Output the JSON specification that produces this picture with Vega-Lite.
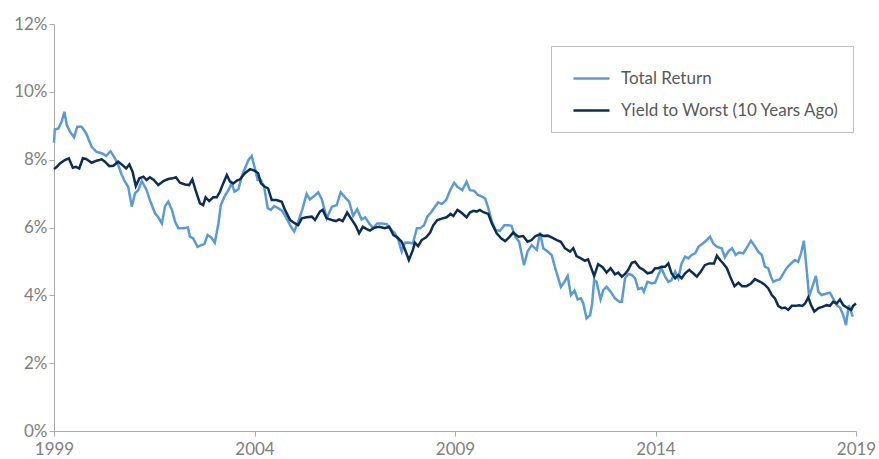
{
"$schema": "https://vega.github.io/schema/vega-lite/v6.json",
"width": 802, "height": 407,
"autosize": {"type": "none"},
"padding": {"left": 54, "top": 24, "right": 23, "bottom": 28},
"background": "white",
"config": {"view": {"stroke": null}, "font": "Lato"},
"datasets": {
"tr": [[1999.00,8.50],[1999.02,8.89],[1999.11,8.92],[1999.19,9.12],[1999.26,9.41],[1999.32,9.02],[1999.40,8.82],[1999.50,8.66],[1999.58,8.97],[1999.69,8.97],[1999.80,8.78],[1999.94,8.38],[2000.06,8.23],[2000.19,8.19],[2000.30,8.11],[2000.41,8.25],[2000.52,8.04],[2000.60,7.84],[2000.69,7.55],[2000.77,7.35],[2000.85,7.20],[2000.94,6.61],[2001.02,7.01],[2001.10,7.10],[2001.19,7.37],[2001.31,7.10],[2001.39,6.81],[2001.52,6.42],[2001.60,6.30],[2001.69,6.12],[2001.77,6.63],[2001.85,6.76],[2001.94,6.52],[2002.02,6.17],[2002.10,5.98],[2002.22,5.98],[2002.34,6.00],[2002.39,5.73],[2002.47,5.68],[2002.58,5.43],[2002.67,5.48],[2002.75,5.51],[2002.83,5.78],[2002.92,5.71],[2003.01,5.55],[2003.10,6.12],[2003.16,6.66],[2003.25,6.91],[2003.35,7.10],[2003.43,7.30],[2003.50,7.06],[2003.60,7.13],[2003.68,7.50],[2003.76,7.74],[2003.85,7.99],[2003.93,8.11],[2004.01,7.74],[2004.08,7.40],[2004.16,7.40],[2004.24,7.20],[2004.33,6.57],[2004.41,6.52],[2004.49,6.63],[2004.59,6.57],[2004.69,6.49],[2004.80,6.27],[2004.91,6.02],[2004.99,5.88],[2005.09,6.17],[2005.19,6.52],[2005.30,6.99],[2005.38,6.83],[2005.49,6.93],[2005.59,7.04],[2005.68,6.83],[2005.74,6.55],[2005.80,6.27],[2005.93,6.61],[2006.05,6.66],[2006.15,7.04],[2006.26,6.89],[2006.36,6.76],[2006.46,6.34],[2006.56,6.54],[2006.67,6.24],[2006.76,6.30],[2006.86,6.12],[2006.96,5.98],[2007.06,6.12],[2007.17,6.12],[2007.30,6.10],[2007.40,5.95],[2007.50,5.83],[2007.59,5.63],[2007.67,5.29],[2007.75,5.55],[2007.84,5.56],[2007.95,5.53],[2008.05,5.98],[2008.13,5.98],[2008.23,6.07],[2008.31,6.32],[2008.42,6.47],[2008.50,6.61],[2008.58,6.74],[2008.67,6.69],[2008.78,6.81],[2008.88,7.10],[2008.98,7.32],[2009.06,7.20],[2009.18,7.10],[2009.29,7.35],[2009.37,7.10],[2009.48,7.08],[2009.57,6.96],[2009.67,6.91],[2009.75,6.86],[2009.83,6.57],[2009.92,6.17],[2010.01,5.93],[2010.12,5.90],[2010.23,6.07],[2010.33,6.07],[2010.41,6.05],[2010.50,5.73],[2010.60,5.58],[2010.72,4.89],[2010.81,5.29],[2010.91,5.48],[2011.04,5.34],[2011.12,5.85],[2011.20,5.39],[2011.31,5.29],[2011.41,5.19],[2011.49,4.84],[2011.64,4.25],[2011.73,4.40],[2011.81,4.57],[2011.89,4.01],[2011.98,4.14],[2012.06,3.88],[2012.14,3.91],[2012.20,3.76],[2012.28,3.32],[2012.37,3.42],[2012.42,3.76],[2012.47,4.45],[2012.53,4.40],[2012.63,3.88],[2012.70,4.16],[2012.78,4.25],[2012.88,4.11],[2012.99,3.91],[2013.10,3.81],[2013.16,3.81],[2013.24,4.50],[2013.32,4.63],[2013.41,4.60],[2013.49,4.50],[2013.57,4.18],[2013.66,4.22],[2013.71,4.11],[2013.80,4.40],[2013.91,4.35],[2013.99,4.37],[2014.07,4.60],[2014.15,4.80],[2014.24,4.55],[2014.32,4.40],[2014.40,4.45],[2014.49,4.70],[2014.57,4.50],[2014.65,4.94],[2014.74,5.14],[2014.82,5.09],[2014.90,5.19],[2014.99,5.24],[2015.07,5.43],[2015.18,5.53],[2015.28,5.63],[2015.36,5.73],[2015.44,5.53],[2015.54,5.43],[2015.65,5.39],[2015.73,5.12],[2015.82,5.30],[2015.91,5.39],[2016.00,5.19],[2016.08,5.26],[2016.19,5.24],[2016.27,5.39],[2016.38,5.61],[2016.46,5.48],[2016.56,5.29],[2016.65,5.19],[2016.73,4.84],[2016.81,4.80],[2016.88,4.55],[2016.94,4.40],[2017.02,4.45],[2017.10,4.47],[2017.19,4.65],[2017.27,4.80],[2017.38,4.94],[2017.48,5.04],[2017.56,4.99],[2017.63,5.24],[2017.70,5.61],[2017.77,4.75],[2017.83,3.96],[2017.91,4.25],[2018.00,4.57],[2018.06,4.11],[2018.14,4.01],[2018.23,4.04],[2018.35,4.08],[2018.43,3.91],[2018.52,3.71],[2018.60,3.64],[2018.68,3.42],[2018.75,3.12],[2018.82,3.71],[2018.92,3.37]],
"ytw": [[1999.00,7.72],[1999.07,7.79],[1999.15,7.89],[1999.27,7.99],[1999.37,8.04],[1999.47,7.76],[1999.55,7.79],[1999.63,7.74],[1999.72,8.04],[1999.80,8.02],[1999.94,7.91],[2000.06,7.97],[2000.19,8.01],[2000.27,7.94],[2000.38,7.81],[2000.48,7.82],[2000.60,7.94],[2000.71,7.84],[2000.80,7.74],[2000.88,7.86],[2000.96,7.64],[2001.04,7.22],[2001.13,7.45],[2001.23,7.50],[2001.31,7.40],[2001.39,7.48],[2001.49,7.40],[2001.60,7.25],[2001.73,7.37],[2001.85,7.43],[2001.96,7.45],[2002.04,7.48],[2002.14,7.32],[2002.27,7.27],[2002.37,7.25],[2002.45,7.42],[2002.53,7.10],[2002.64,6.71],[2002.72,6.66],[2002.78,6.89],[2002.87,6.78],[2002.97,6.89],[2003.06,6.89],[2003.14,7.06],[2003.22,7.30],[2003.31,7.55],[2003.39,7.35],[2003.47,7.30],[2003.56,7.38],[2003.64,7.42],[2003.76,7.60],[2003.89,7.72],[2004.01,7.67],[2004.09,7.60],[2004.16,7.30],[2004.26,7.20],[2004.34,7.15],[2004.43,6.81],[2004.55,6.81],[2004.68,6.76],[2004.76,6.52],[2004.89,6.22],[2005.01,6.12],[2005.09,6.07],[2005.18,6.27],[2005.30,6.30],[2005.43,6.32],[2005.51,6.22],[2005.63,6.47],[2005.70,6.52],[2005.80,6.27],[2005.93,6.22],[2006.03,6.19],[2006.11,6.24],[2006.20,6.19],[2006.31,6.44],[2006.42,6.24],[2006.53,6.04],[2006.61,5.83],[2006.70,6.02],[2006.80,5.95],[2006.88,5.91],[2006.98,5.99],[2007.11,6.02],[2007.25,5.98],[2007.36,6.02],[2007.46,5.78],[2007.56,5.71],[2007.67,5.58],[2007.75,5.36],[2007.85,5.04],[2007.95,5.34],[2008.00,5.55],[2008.08,5.45],[2008.17,5.63],[2008.28,5.71],[2008.38,5.85],[2008.46,6.07],[2008.56,6.22],[2008.69,6.27],[2008.79,6.30],[2008.89,6.40],[2008.96,6.34],[2009.06,6.52],[2009.10,6.49],[2009.18,6.42],[2009.29,6.30],[2009.37,6.44],[2009.46,6.49],[2009.54,6.47],[2009.62,6.52],[2009.71,6.45],[2009.83,6.40],[2009.92,6.12],[2010.04,5.83],[2010.15,5.68],[2010.25,5.60],[2010.35,5.71],[2010.45,5.85],[2010.58,5.73],[2010.70,5.75],[2010.81,5.58],[2010.91,5.63],[2011.01,5.75],[2011.12,5.80],[2011.20,5.75],[2011.31,5.76],[2011.41,5.71],[2011.54,5.63],[2011.64,5.58],[2011.74,5.39],[2011.87,5.29],[2011.95,5.39],[2012.03,5.16],[2012.14,5.09],[2012.24,5.02],[2012.32,5.06],[2012.39,4.83],[2012.47,4.57],[2012.57,4.92],[2012.68,4.83],[2012.78,4.67],[2012.88,4.80],[2012.99,4.62],[2013.07,4.67],[2013.16,4.55],[2013.24,4.63],[2013.32,4.75],[2013.41,4.96],[2013.49,4.99],[2013.60,4.82],[2013.70,4.75],[2013.80,4.65],[2013.91,4.68],[2013.99,4.80],[2014.07,4.80],[2014.15,4.84],[2014.24,4.84],[2014.32,4.94],[2014.40,4.65],[2014.49,4.50],[2014.57,4.60],[2014.65,4.50],[2014.74,4.65],[2014.84,4.75],[2014.94,4.65],[2015.03,4.55],[2015.13,4.70],[2015.23,4.89],[2015.34,4.94],[2015.46,4.94],[2015.53,5.17],[2015.61,5.04],[2015.69,4.94],[2015.78,4.80],[2015.88,4.50],[2015.97,4.27],[2016.07,4.37],[2016.16,4.27],[2016.27,4.27],[2016.38,4.35],[2016.48,4.48],[2016.61,4.40],[2016.71,4.33],[2016.81,4.21],[2016.90,4.01],[2016.98,3.91],[2017.06,3.69],[2017.15,3.62],[2017.23,3.64],[2017.31,3.57],[2017.40,3.69],[2017.50,3.69],[2017.58,3.71],[2017.66,3.69],[2017.73,3.76],[2017.81,3.94],[2017.88,3.71],[2017.96,3.52],[2018.06,3.62],[2018.16,3.66],[2018.27,3.71],[2018.35,3.69],[2018.43,3.81],[2018.52,3.76],[2018.60,3.88],[2018.68,3.71],[2018.77,3.64],[2018.88,3.57],[2018.93,3.69],[2019.00,3.76]]
},
"data": {"values": []},
"layer": [
{"data": {"name": "tr"},
 "transform": [{"calculate": "datum[0]", "as": "t"}, {"calculate": "datum[1]", "as": "v"}, {"calculate": "'Total Return'", "as": "series"}],
 "mark": {"type": "line", "strokeWidth": 2.5, "interpolate": "linear"},
 "encoding": {
  "x": {"field": "t", "type": "quantitative", "scale": {"domain": [1999, 2019], "nice": false, "zero": false},
        "axis": {"values": [1999, 2004, 2009, 2014, 2019], "format": "d", "title": null, "grid": false, "domainColor": "#aaaaaa", "tickColor": "#aaaaaa", "tickSize": 5, "labelFontSize": 17, "labelColor": "#808080", "labelPadding": 5, "labelFont": "Lato", "labelFlush": false}},
  "y": {"field": "v", "type": "quantitative", "scale": {"domain": [0, 12], "nice": false},
        "axis": {"values": [0, 2, 4, 6, 8, 10, 12], "labelExpr": "datum.value + '%'", "title": null, "grid": false, "domainColor": "#aaaaaa", "tickColor": "#aaaaaa", "tickSize": 5, "labelFontSize": 17, "labelColor": "#808080", "labelPadding": 2, "labelFont": "Lato"}},
  "color": {"field": "series", "type": "nominal",
   "scale": {"domain": ["Total Return", "Yield to Worst (10 Years Ago)"], "range": ["#5b9bd5", "#0c2d57"]},
   "legend": {"title": null, "orient": "none", "legendX": 497, "legendY": 22, "direction": "vertical", "symbolType": "stroke", "symbolSize": 1296, "symbolStrokeWidth": 2.5, "symbolOffset": 8, "labelFontSize": 17, "labelColor": "#595959", "labelFont": "Lato", "labelOffset": 10, "labelLimit": 400, "labelExpr": "datum.label + '\u2002\u2009\u200a'", "padding": 13, "rowPadding": 4, "strokeColor": "#bfbfbf", "fillColor": "white"}}
 }},
{"data": {"name": "ytw"},
 "transform": [{"calculate": "datum[0]", "as": "t"}, {"calculate": "datum[1]", "as": "v"}, {"calculate": "'Yield to Worst (10 Years Ago)'", "as": "series"}],
 "mark": {"type": "line", "strokeWidth": 2.5, "interpolate": "linear"},
 "encoding": {
  "x": {"field": "t", "type": "quantitative"},
  "y": {"field": "v", "type": "quantitative"},
  "color": {"field": "series", "type": "nominal"}
 }}
]
}
